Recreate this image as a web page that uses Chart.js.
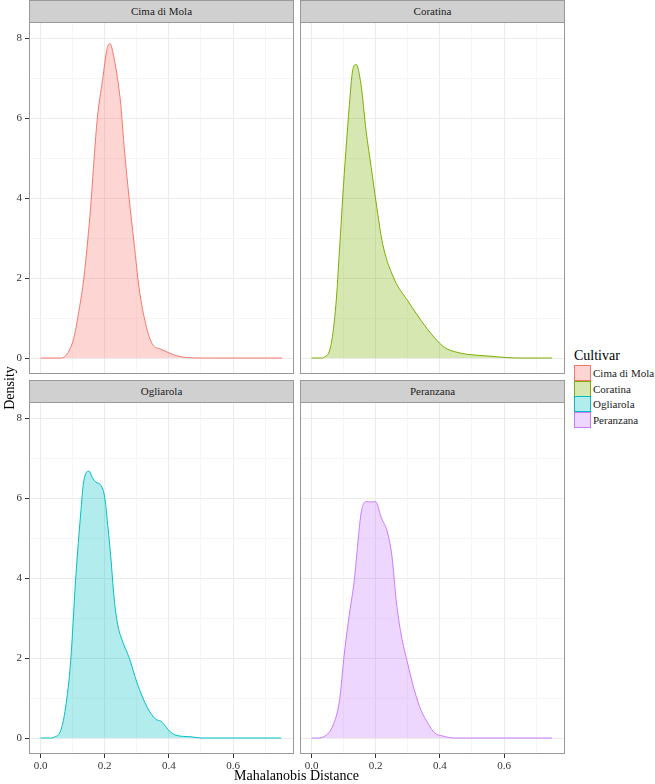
<!DOCTYPE html>
<html><head><meta charset="utf-8">
<script src="https://cdn.jsdelivr.net/npm/chart.js@4.4.1/dist/chart.umd.min.js"></script>
<style>
body{margin:0;background:#fff;}
#wrap{position:relative;width:655px;height:784px;overflow:hidden;font-family:'Liberation Serif',serif;background:#fff;font-weight:400;}
canvas{position:absolute;}
.strip{position:absolute;box-sizing:border-box;background:#D0D0D0;border:1px solid #999;color:#222;font-size:11px;font-weight:400;text-align:center;line-height:21px;}
.txt{position:absolute;white-space:nowrap;color:#000;font-weight:400;}
.key{position:absolute;box-sizing:border-box;width:17px;height:16px;border:1px solid;}
</style></head>
<body><div id="wrap"></div>
<script>
// ---------- data ----------
const cultivars = ['Cima di Mola', 'Coratina', 'Ogliarola', 'Peranzana'];

const cimaX = [0, 0.06, 0.073, 0.09, 0.104, 0.12, 0.135, 0.156, 0.167, 0.177, 0.193, 0.208, 0.216, 0.229, 0.25, 0.26, 0.276, 0.292, 0.307, 0.328, 0.349, 0.375, 0.40, 0.427, 0.458, 0.50, 0.753];
const cimaY = [0, 0, 0.02, 0.2, 0.51, 1.2, 2.0, 3.76, 5.0, 6.0, 6.93, 7.76, 7.86, 7.5, 6.34, 5.34, 4.0, 2.84, 1.76, 0.84, 0.34, 0.22, 0.13, 0.05, 0.01, 0, 0];

const coratinaX = [0, 0.03, 0.040, 0.061, 0.076, 0.087, 0.097, 0.107, 0.118, 0.128, 0.139, 0.154, 0.17, 0.186, 0.201, 0.222, 0.259, 0.30, 0.342, 0.383, 0.415, 0.45, 0.487, 0.55, 0.61, 0.65, 0.75];
const coratinaY = [0, 0, 0.02, 0.34, 1.34, 2.68, 4.0, 5.18, 6.34, 7.18, 7.34, 6.84, 5.68, 4.76, 3.9, 2.84, 1.95, 1.43, 0.93, 0.51, 0.26, 0.15, 0.09, 0.05, 0.01, 0, 0];

const ogliarolaX = [0, 0.035, 0.042, 0.0625, 0.078, 0.094, 0.109, 0.115, 0.125, 0.135, 0.151, 0.162, 0.172, 0.1875, 0.2, 0.208, 0.219, 0.229, 0.24, 0.255, 0.276, 0.302, 0.333, 0.359, 0.375, 0.385, 0.401, 0.422, 0.469, 0.5, 0.75];
const ogliarolaY = [0, 0, 0.02, 0.18, 0.76, 1.93, 3.93, 4.6, 5.6, 6.44, 6.67, 6.5, 6.4, 6.32, 6.02, 5.44, 4.52, 3.52, 2.85, 2.43, 2.01, 1.35, 0.76, 0.47, 0.42, 0.34, 0.18, 0.07, 0.03, 0, 0];

const peranzanaX = [0, 0.025, 0.034, 0.05, 0.066, 0.087, 0.102, 0.118, 0.133, 0.144, 0.154, 0.162, 0.17, 0.186, 0.199, 0.217, 0.238, 0.251, 0.264, 0.279, 0.3, 0.321, 0.342, 0.362, 0.383, 0.409, 0.446, 0.75];
const peranzanaY = [0, 0, 0.02, 0.1, 0.30, 0.93, 2.10, 3.1, 3.93, 4.85, 5.6, 5.85, 5.91, 5.9, 5.91, 5.52, 5.1, 4.52, 3.43, 2.6, 1.85, 1.18, 0.68, 0.38, 0.13, 0.05, 0, 0];

const xMajorTicks = [0.0, 0.2, 0.4, 0.6];
const xTickLabels = ['0.0', '0.2', '0.4', '0.6'];
const xMinorTicks = [0.1, 0.3, 0.5, 0.7];
const yMajorTicks = [0, 2, 4, 6, 8];
const yTickLabels = ['0', '2', '4', '6', '8'];
const yMinorTicks = [1, 3, 5, 7];

const xTitle = 'Mahalanobis Distance';
const yTitle = 'Density';
const legendTitle = 'Cultivar';

// ---------- styles / layout ----------
const seriesX = [cimaX, coratinaX, ogliarolaX, peranzanaX];
const seriesY = [cimaY, coratinaY, ogliarolaY, peranzanaY];
const lineColors = ['#F8766D', '#7CAE00', '#00BFC4', '#C77CFF'];
const fillColors = ['rgba(248,118,109,0.3)', 'rgba(124,174,0,0.3)', 'rgba(0,191,196,0.3)', 'rgba(199,124,255,0.3)'];
const X_MIN = -0.036, X_MAX = 0.79, Y_MIN = -0.4, Y_MAX = 8.4;
const panels = [
  {L: 29, T: 22, R: 293, B: 373, col: 0, row: 0},
  {L: 300, T: 22, R: 564, B: 373, col: 1, row: 0},
  {L: 29, T: 402, R: 293, B: 753, col: 0, row: 1},
  {L: 300, T: 402, R: 564, B: 753, col: 1, row: 1}
];
const wrap = document.getElementById('wrap');
const FONT = "'Liberation Serif', serif";

function isMajor(list, v) { return list.some(t => Math.abs(t - v) < 1e-9); }

const borderPlugin = {
  id: 'panelBorder',
  afterDraw(chart) {
    const ca = chart.chartArea, ctx = chart.ctx;
    ctx.save();
    ctx.strokeStyle = '#999';
    ctx.lineWidth = 1;
    ctx.strokeRect(ca.left + 0.5, ca.top + 0.5, ca.right - ca.left - 1, ca.bottom - ca.top - 1);
    ctx.restore();
  }
};

panels.forEach((p, i) => {
  const yW = p.col === 0 ? 29 : 0;
  const xH = p.row === 1 ? 24 : 0;
  const cv = document.createElement('canvas');
  const w = p.R - p.L + 1 + yW, h = p.B - p.T + 1 + xH;
  cv.width = w; cv.height = h;
  cv.style.left = (p.L - yW) + 'px';
  cv.style.top = p.T + 'px';
  cv.style.width = w + 'px'; cv.style.height = h + 'px';
  wrap.appendChild(cv);

  // strip
  const s = document.createElement('div');
  s.className = 'strip';
  s.style.left = p.L + 'px';
  s.style.top = (p.row === 0 ? 0 : 380) + 'px';
  s.style.width = (p.R - p.L + 1) + 'px';
  s.style.height = '23px';
  s.textContent = cultivars[i];
  wrap.appendChild(s);

  const xs = seriesX[i], ys = seriesY[i];
  const xAll = xMajorTicks.concat(xMinorTicks).sort((a, b) => a - b);
  const yAll = yMajorTicks.concat(yMinorTicks).sort((a, b) => a - b);

  new Chart(cv, {
    type: 'line',
    data: {
      datasets: [{
        label: cultivars[i],
        data: xs.map((x, k) => ({x: x, y: ys[k]})),
        borderColor: lineColors[i],
        backgroundColor: fillColors[i],
        borderWidth: 1,
        fill: 'origin',
        pointRadius: 0,
        cubicInterpolationMode: 'monotone'
      }]
    },
    options: {
      responsive: false,
      animation: false,
      devicePixelRatio: 1,
      layout: {padding: 0},
      plugins: {legend: {display: false}, tooltip: {enabled: false}},
      scales: {
        x: {
          type: 'linear', min: X_MIN, max: X_MAX,
          afterBuildTicks: sc => { sc.ticks = xAll.map(v => ({value: v})); },
          afterFit: sc => { sc.height = xH; sc.paddingLeft = 0; sc.paddingRight = 0; sc.paddingTop = 0; sc.paddingBottom = 0; },
          border: {display: false},
          grid: {
            color: c => isMajor(xMajorTicks, c.tick.value) ? '#EBEBEB' : '#F6F6F6',
            lineWidth: 1,
            drawTicks: p.row === 1,
            tickLength: 4,
            tickColor: c => (c.tick && isMajor(xMajorTicks, c.tick.value)) ? '#333' : 'rgba(0,0,0,0)'
          },
          ticks: {
            display: p.row === 1,
            autoSkip: false, maxRotation: 0, padding: 2,
            color: '#333',
            font: {family: FONT, size: 11, weight: 'normal'},
            callback: v => { const k = xMajorTicks.findIndex(t => Math.abs(t - v) < 1e-9); return k >= 0 ? xTickLabels[k] : ''; }
          }
        },
        y: {
          type: 'linear', min: Y_MIN, max: Y_MAX,
          afterBuildTicks: sc => { sc.ticks = yAll.map(v => ({value: v})); },
          afterFit: sc => { sc.width = yW; sc.paddingLeft = 0; sc.paddingRight = 0; sc.paddingTop = 0; sc.paddingBottom = 0; },
          border: {display: false},
          grid: {
            color: c => isMajor(yMajorTicks, c.tick.value) ? '#EBEBEB' : '#F6F6F6',
            lineWidth: 1,
            drawTicks: p.col === 0,
            tickLength: 4,
            tickColor: c => (c.tick && isMajor(yMajorTicks, c.tick.value)) ? '#333' : 'rgba(0,0,0,0)'
          },
          ticks: {
            display: p.col === 0,
            autoSkip: false, padding: 3,
            color: '#333',
            font: {family: FONT, size: 11, weight: 'normal'},
            callback: v => { const k = yMajorTicks.findIndex(t => Math.abs(t - v) < 1e-9); return k >= 0 ? yTickLabels[k] : ''; }
          }
        }
      }
    },
    plugins: [borderPlugin]
  });
});

// axis titles
function addText(txt, css) {
  const d = document.createElement('div');
  d.className = 'txt';
  d.textContent = txt;
  Object.assign(d.style, css);
  wrap.appendChild(d);
  return d;
}
addText(xTitle, {left: '196px', width: '201px', textAlign: 'center', top: '767px', fontSize: '14px', lineHeight: '18px'});
addText(yTitle, {left: '-40px', width: '100px', textAlign: 'center', top: '379px', fontSize: '14px', lineHeight: '18px', transform: 'rotate(-90deg)'});

// legend
addText(legendTitle, {left: '574px', top: '347px', fontSize: '14px', lineHeight: '18px'});
cultivars.forEach((c, i) => {
  const top = 365 + i * 15.5;
  const k = document.createElement('div');
  k.className = 'key';
  k.style.left = '574px';
  k.style.top = top + 'px';
  k.style.background = fillColors[i];
  k.style.borderColor = lineColors[i];
  wrap.appendChild(k);
  addText(c, {left: '593px', top: (top) + 'px', fontSize: '11px', lineHeight: '16px', color: '#1a1a1a'});
});
</script>
</body></html>
